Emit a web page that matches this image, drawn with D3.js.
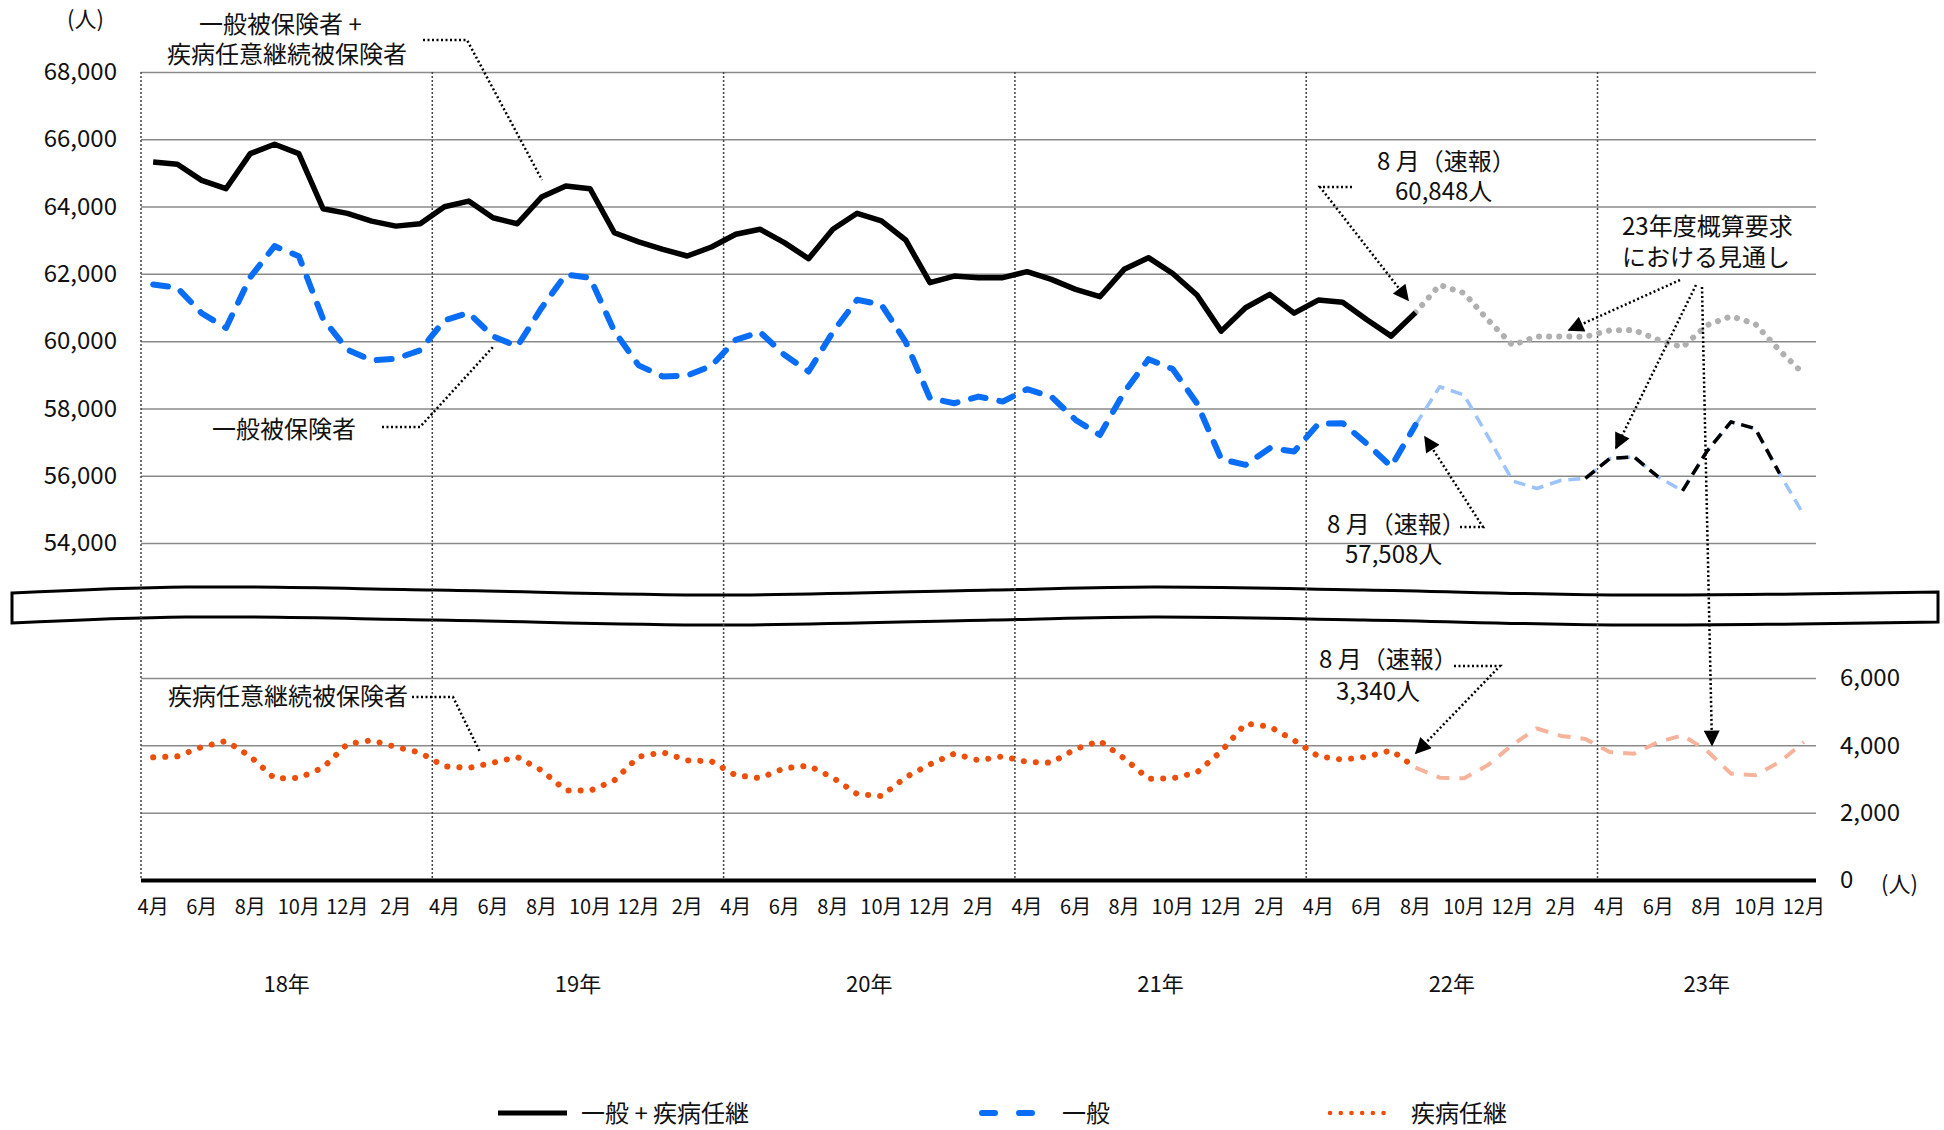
<!DOCTYPE html>
<html>
<head>
<meta charset="utf-8">
<script src="https://d3js.org/d3.v7.min.js"></script>
<style>
body { margin: 0; background: #fff; }
svg text { font-family: "Noto Sans CJK JP", "Noto Sans", sans-serif; fill: #111; }
</style>
</head>
<body>
<svg id="chart" width="1944" height="1130"></svg>
<script>
// months Apr 2018 - Dec 2023
const months = [
  "2018-04","2018-05","2018-06","2018-07","2018-08","2018-09","2018-10","2018-11","2018-12",
  "2019-01","2019-02","2019-03","2019-04","2019-05","2019-06","2019-07","2019-08","2019-09","2019-10","2019-11","2019-12",
  "2020-01","2020-02","2020-03","2020-04","2020-05","2020-06","2020-07","2020-08","2020-09","2020-10","2020-11","2020-12",
  "2021-01","2021-02","2021-03","2021-04","2021-05","2021-06","2021-07","2021-08","2021-09","2021-10","2021-11","2021-12",
  "2022-01","2022-02","2022-03","2022-04","2022-05","2022-06","2022-07","2022-08","2022-09","2022-10","2022-11","2022-12",
  "2023-01","2023-02","2023-03","2023-04","2023-05","2023-06","2023-07","2023-08","2023-09","2023-10","2023-11","2023-12"
];
const fiscalYears = ["18年","19年","20年","21年","22年","23年"];
const fyStart = ["2018-04","2019-04","2020-04","2021-04","2022-04","2023-04"];
const fyEnd   = ["2019-03","2020-03","2021-03","2022-03","2023-03","2023-12"];
const upperTicks = [54000,56000,58000,60000,62000,64000,66000,68000];
const lowerTicks = [0,2000,4000,6000];

// actual, Apr 2018 - Aug 2022
const totalActual = [65325,65256,64779,64531,65573,65851,65573,63935,63797,63568,63419,63489,
  63995,64164,63668,63489,64283,64610,64531,63221,62950,62730,62531,62799,
  63176,63325,62928,62452,63325,63801,63573,63007,61737,61935,61886,61886,
  62065,61836,61538,61320,62134,62481,62010,61370,60298,60993,61390,60834,
  61220,61155,60635,60150,60848];
const generalActual = [61682,61583,60830,60392,61900,62824,62526,60660,59747,59429,59479,59727,
  60620,60839,60144,59846,60988,61980,61881,60293,59280,58948,58978,59266,
  60040,60268,59593,59097,60270,61231,61082,59980,58303,58154,58352,58204,
  58571,58352,57658,57211,58480,59464,59171,58150,56491,56323,56819,56720,
  57543,57563,56948,56273,57508];
const voluntaryActual = [3644,3673,3950,4129,3673,3020,3030,3337,4040,4149,3950,3782,
  3376,3327,3485,3653,3257,2663,2653,2960,3663,3792,3554,3525,
  3109,3030,3317,3396,3040,2554,2495,3050,3436,3752,3554,3673,
  3505,3485,3891,4129,3614,3010,3020,3198,3822,4644,4554,4149,
  3673,3574,3663,3851,3340];

// outlook, Aug 2022 - Dec 2023
const outlookMonths = months.slice(52);
const totalOutlook = [60848,61670,61430,60620,59880,60140,60140,60130,60320,60330,60040,59820,60470,60740,60510,59720,59020];
const generalOutlook = [57508,58645,58400,57150,55846,55620,55866,55920,56510,56560,55965,55550,56720,57600,57400,56065,54830];
const voluntaryOutlook = [3340,3040,3020,3420,4020,4500,4280,4190,3800,3750,4099,4297,3850,3158,3109,3505,4100];
const fy23Segments = [["2023-03","2023-06"],["2023-07","2023-11"]];

const legendLabels = ["一般 + 疾病任継","一般","疾病任継"];

const svg = d3.select("#chart");
const plotLeft = 141, plotRight = 1816, plotTop = 72, plotBottom = 880;

const x = d3.scaleBand().domain(months).range([plotLeft, plotRight]);
const cx = m => x(m) + x.bandwidth() / 2;
const yUp = d3.scaleLinear().domain([54000, 68000]).range([543, 72]);
const yLow = d3.scaleLinear().domain([0, 6000]).range([880, 678]);

const defs = svg.append("defs");
defs.append("marker").attr("id", "arrow")
  .attr("viewBox", "0 0 10 10").attr("refX", 9).attr("refY", 5)
  .attr("markerWidth", 18).attr("markerHeight", 16)
  .attr("markerUnits", "userSpaceOnUse").attr("orient", "auto")
  .append("path").attr("d", "M0,0L10,5L0,10Z").attr("fill", "#000");

// upper axis + grid
const gUp = svg.append("g").attr("transform", `translate(${plotLeft},0)`)
  .call(d3.axisLeft(yUp).tickValues(upperTicks).tickSize(-(plotRight - plotLeft)).tickPadding(24).tickFormat(d3.format(",")));
gUp.select(".domain").remove();
gUp.selectAll(".tick line").attr("stroke", "#8a8a8a").attr("stroke-width", 1.5);
gUp.selectAll(".tick text").attr("font-size", 24);

// lower axis + grid (right side)
const gLow = svg.append("g").attr("transform", `translate(${plotRight},0)`)
  .call(d3.axisRight(yLow).tickValues(lowerTicks).tickSize(-(plotRight - plotLeft)).tickPadding(24).tickFormat(d3.format(",")));
gLow.select(".domain").remove();
gLow.selectAll(".tick line")
  .attr("stroke", d => d === 0 ? "#000" : "#8a8a8a")
  .attr("stroke-width", d => d === 0 ? 4 : 1.5);
gLow.selectAll(".tick text").attr("font-size", 24);

svg.append("text").attr("x", 67).attr("y", 27).attr("font-size", 22).text("(人)");
svg.append("text").attr("x", 1881).attr("y", 892).attr("font-size", 22).text("(人)");

// x axis labels
const gx = svg.append("g").attr("transform", `translate(0,${plotBottom})`)
  .call(d3.axisBottom(x).tickValues(months.filter((d, i) => i % 2 === 0))
    .tickSize(0).tickPadding(20).tickFormat(d => +d.slice(5) + "月"));
gx.select(".domain").remove();
gx.selectAll("text").attr("font-size", 20);

svg.selectAll(".fy").data(fiscalYears).join("text")
  .attr("class", "fy")
  .attr("x", (d, i) => (x(fyStart[i]) + x(fyEnd[i]) + x.bandwidth()) / 2)
  .attr("y", 992)
  .attr("text-anchor", "middle")
  .attr("font-size", 22)
  .text(d => d);

// axis break band
const bandTop = [[12,593],[186,587],[434,590],[719,595],[992,590],[1153,587],[1364,590],[1612,595],[1798,594],[1938,592]];
const wave = d3.line().curve(d3.curveCatmullRom);
const topPath = wave(bandTop);
const botPath = wave(bandTop.map(p => [p[0], p[1] + 30]).reverse());
svg.append("path")
  .attr("d", topPath + "L" + botPath.slice(1) + "Z")
  .attr("fill", "#fff").attr("stroke", "#000").attr("stroke-width", 3);

// fiscal year separators
svg.selectAll(".vline").data(fyStart).join("line")
  .attr("class", "vline")
  .attr("x1", d => x(d)).attr("x2", d => x(d))
  .attr("y1", plotTop).attr("y2", plotBottom)
  .attr("stroke", "#444").attr("stroke-width", 1.5).attr("stroke-dasharray", "2,2");

const path = d3.line();
function draw(ms, vals, y, style) {
  const p = svg.append("path")
    .datum(ms.map((m, i) => [cx(m), y(vals[i])]))
    .attr("d", path).attr("fill", "none")
    .attr("stroke-linejoin", "round");
  Object.entries(style).forEach(([k, v]) => p.attr(k, v));
}

// outlook
draw(outlookMonths, totalOutlook, yUp, {"stroke": "#b0b0b0", "stroke-width": 6, "stroke-linecap": "round", "stroke-dasharray": "0.1,10"});
draw(outlookMonths, generalOutlook, yUp, {"stroke": "#9cc3fa", "stroke-width": 3.5, "stroke-dasharray": "12,7"});
fy23Segments.forEach(([a, b]) => {
  const i0 = outlookMonths.indexOf(a), i1 = outlookMonths.indexOf(b) + 1;
  draw(outlookMonths.slice(i0, i1), generalOutlook.slice(i0, i1), yUp, {"stroke": "#000", "stroke-width": 3.5, "stroke-dasharray": "12,7"});
});
draw(outlookMonths, voluntaryOutlook, yLow, {"stroke": "#f6b39b", "stroke-width": 4, "stroke-dasharray": "13,10"});

// actual
const actualMonths = months.slice(0, 53);
draw(actualMonths, totalActual, yUp, {"stroke": "#000", "stroke-width": 5.5});
draw(actualMonths, generalActual, yUp, {"stroke": "#0a6df5", "stroke-width": 6, "stroke-linecap": "round", "stroke-dasharray": "15,14"});
draw(actualMonths, voluntaryActual, yLow, {"stroke": "#eb4f0b", "stroke-width": 6, "stroke-linecap": "round", "stroke-dasharray": "0.1,12"});

// annotations
function leader(pts, arrow) {
  const p = svg.append("path").attr("d", d3.line()(pts))
    .attr("fill", "none").attr("stroke", "#000").attr("stroke-width", 2.5)
    .attr("stroke-dasharray", "2,2.5");
  if (arrow) p.attr("marker-end", "url(#arrow)");
}
// one text element per note, lines as tspans: [x, y, string]
function note(lines) {
  const t = svg.append("text").attr("font-size", 24);
  lines.forEach(([tx, ty, s]) => t.append("tspan").attr("x", tx).attr("y", ty).text(s));
}

note([[199, 33, "一般被保険者 +"], [167, 63, "疾病任意継続被保険者"]]);
leader([[423,40],[467,40],[542,180]], false);

note([[212, 438, "一般被保険者"]]);
leader([[382,427],[420,427],[493,347]], false);

note([[168, 705, "疾病任意継続被保険者"]]);
leader([[412,697],[453,697],[480,752]], false);

note([[1377, 170, "8 月（速報）"], [1395, 200, "60,848人"]]);
leader([[1352,187],[1320,187],[1408,300]], true);

note([[1327, 533, "8 月（速報）"], [1345, 563, "57,508人"]]);
leader([[1460,527],[1483,527],[1425,437]], true);

note([[1319, 668, "8 月（速報）"], [1336, 700, "3,340人"]]);
leader([[1454,666],[1500,666],[1416,753]], true);

note([[1622, 235, "23年度概算要求"], [1622, 266, "における見通し"]]);
leader([[1680,280],[1569,330]], true);
leader([[1696,285],[1616,448]], true);
leader([[1702,287],[1712,745]], true);

// legend
const legendX = [498, 982, 1330];
const legendTextX = [581, 1062, 1411];
const legendStyles = [
  {"stroke": "#000", "stroke-width": 5},
  {"stroke": "#0a6df5", "stroke-width": 6, "stroke-linecap": "round", "stroke-dasharray": "13,24"},
  {"stroke": "#eb4f0b", "stroke-width": 4.5, "stroke-linecap": "round", "stroke-dasharray": "0.1,10.6"}
];
const legendLen = [69, 50, 64];
legendLabels.forEach((s, i) => {
  const l = svg.append("line").attr("x1", legendX[i]).attr("x2", legendX[i] + legendLen[i])
    .attr("y1", 1113).attr("y2", 1113);
  Object.entries(legendStyles[i]).forEach(([k, v]) => l.attr(k, v));
  svg.append("text").attr("x", legendTextX[i]).attr("y", 1122).attr("font-size", 24).text(s);
});
</script>
</body>
</html>
